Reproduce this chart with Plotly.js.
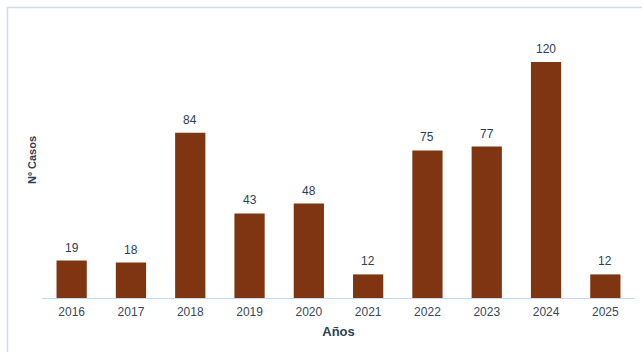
<!DOCTYPE html>
<html>
<head>
<meta charset="utf-8">
<script src="https://cdn.plot.ly/plotly-3.0.1.min.js"></script>
<style>html,body{margin:0;padding:0;background:#fff;}#chart{width:642px;height:352px;}</style>
</head>
<body>
<div id="chart"></div>
<script>
const years = ['2016','2017','2018','2019','2020','2021','2022','2023','2024','2025'];
const cases = [19, 18, 84, 43, 48, 12, 75, 77, 120, 12];

const W = 642, H = 352, L = 42, R = 7, T = 22, B = 54;
const pw = W - L - R, ph = H - T - B;
const px = x => (x - L) / pw;
const py = y => (H - B - y) / ph;
const FONT = 'Liberation Sans, Arial, sans-serif';

const trace = {
  type: 'bar',
  x: years,
  y: cases,
  marker: {color: '#7f3511'},
  hoverinfo: 'x+y'
};

// category axis: position annotations by category index
const valueLabels = years.map((yr, i) => ({
  x: i, y: cases[i], xref: 'x', yref: 'y',
  text: String(cases[i]), showarrow: false,
  yanchor: 'bottom', yshift: 4,
  font: {family: FONT, size: 12, color: '#2f3d52'}
}));

const layout = {
  width: W, height: H,
  margin: {l: L, r: R, t: T, b: B, pad: 0},
  paper_bgcolor: '#ffffff', plot_bgcolor: '#ffffff',
  bargap: 0.49,
  showlegend: false,
  font: {family: FONT, color: '#2f3d52'},
  xaxis: {
    type: 'category',
    range: [-0.5, 9.5],
    showline: true, linecolor: '#c5d8ef', linewidth: 1,
    showgrid: false, zeroline: false, ticks: '',
    ticklabelstandoff: 3,
    tickfont: {size: 12, color: '#3a475a'},
    title: {text: '<b>Años</b>', font: {size: 13, color: '#2f3d52'}, standoff: 8}
  },
  yaxis: {
    range: [0, 140.3],
    showline: false, showgrid: false, zeroline: false,
    showticklabels: false, ticks: '',
    title: {text: '<b>Nº Casos</b>', font: {size: 11, color: '#2f3d52'}, standoff: 2}
  },
  annotations: valueLabels,
  shapes: [
    {type: 'line', xref: 'paper', yref: 'paper', x0: px(7), x1: px(700), y0: py(7.5), y1: py(7.5), line: {color: '#cfdcec', width: 1.5}},
    {type: 'line', xref: 'paper', yref: 'paper', x0: px(7.5), x1: px(7.5), y0: py(7), y1: py(400), line: {color: '#cfdcec', width: 1.5}}
  ]
};

Plotly.newPlot('chart', [trace], layout, {displayModeBar: false, staticPlot: true});
</script>
</body>
</html>
